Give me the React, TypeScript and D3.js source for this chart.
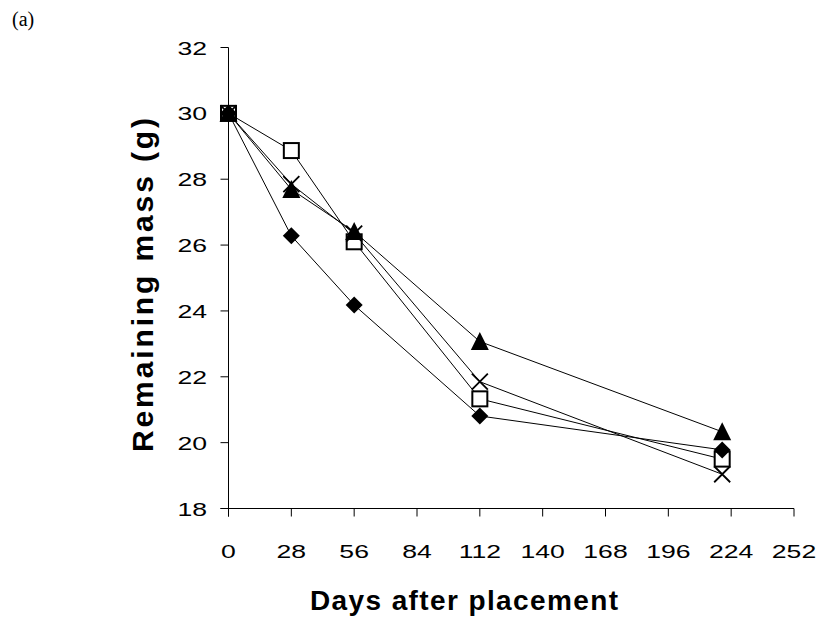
import React from "react";
import * as d3 from "d3";

const days = [0, 28, 56, 112, 220];
const diamondSeries = [30, 26.28, 24.18, 20.81, 19.78];
const squareSeries = [30, 28.87, 26.1, 21.33, 19.5];
const triangleSeries = [30, 27.69, 26.41, 23.07, 20.33];
const crossSeries = [30, 27.85, 26.35, 21.85, 19.04];
const xTicks = [0, 28, 56, 84, 112, 140, 168, 196, 224, 252];
const yTicks = [18, 20, 22, 24, 26, 28, 30, 32];

const W = 817;
const H = 625;

export default function App() {
  const x = d3.scaleLinear().domain([0, 252]).range([228.5, 794]);
  const y = d3.scaleLinear().domain([18, 32]).range([508.5, 47.5]);
  const line = d3
    .line<number>()
    .x((_, i) => x(days[i]))
    .y((v) => y(v));

  const series = [
    { key: "sq", vals: squareSeries },
    { key: "x", vals: crossSeries },
    { key: "tri", vals: triangleSeries },
    { key: "dia", vals: diamondSeries },
  ];

  const marker = (key: string, v: number, i: number) => {
    const cx = x(days[i]);
    const cy = y(v);
    if (key === "dia") {
      const r = 8.5;
      return (
        <path
          key={key + i}
          d={`M${cx},${cy - r}L${cx + r},${cy}L${cx},${cy + r}L${cx - r},${cy}Z`}
          fill="#000"
        />
      );
    }
    if (key === "sq") {
      return (
        <rect
          key={key + i}
          x={cx - 7.5}
          y={cy - 7.5}
          width={15}
          height={15}
          fill="#fff"
          stroke="#000"
          strokeWidth={2}
        />
      );
    }
    if (key === "tri") {
      return (
        <path
          key={key + i}
          d={`M${cx},${cy - 9.5}L${cx + 9},${cy + 8.5}L${cx - 9},${cy + 8.5}Z`}
          fill="#000"
        />
      );
    }
    const r = 8;
    return (
      <path
        key={key + i}
        d={`M${cx - r},${cy - r}L${cx + r},${cy + r}M${cx - r},${cy + r}L${cx + r},${cy - r}`}
        stroke="#000"
        strokeWidth={1.8}
        fill="none"
      />
    );
  };

  const tickFont = "'Liberation Sans', Arial, sans-serif";

  return (
    <svg
      width={W}
      height={H}
      style={{ position: "absolute", left: 0, top: 0, background: "#fff" }}
    >
      <rect width={W} height={H} fill="#fff" />
      <text
        x={12}
        y={26}
        fontFamily="'Liberation Serif', 'Times New Roman', serif"
        fontSize={20}
      >
        (a)
      </text>

      {/* y axis */}
      <line x1={x(0)} x2={x(0)} y1={y(32)} y2={y(18) + 8} stroke="#000" strokeWidth={1} />
      {yTicks.map((t) => (
        <g key={"yt" + t}>
          <line x1={x(0) - 8} x2={x(0)} y1={y(t)} y2={y(t)} stroke="#000" strokeWidth={1} />
          <text
            transform={`translate(207,${y(t) + 7}) scale(1.4,1)`}
            textAnchor="end"
            fontFamily={tickFont}
            fontSize={19}
            fill="#000"
          >
            {t}
          </text>
        </g>
      ))}

      {/* x axis */}
      <line x1={x(0) - 8} x2={x(252)} y1={y(18)} y2={y(18)} stroke="#000" strokeWidth={1} />
      {xTicks.map((t) => (
        <g key={"xt" + t}>
          <line x1={x(t)} x2={x(t)} y1={y(18)} y2={y(18) + 8} stroke="#000" strokeWidth={1} />
          <text
            transform={`translate(${x(t)},558) scale(1.4,1)`}
            textAnchor="middle"
            fontFamily={tickFont}
            fontSize={19}
            fill="#000"
          >
            {t}
          </text>
        </g>
      ))}

      {/* titles */}
      <text
        x={464}
        y={610}
        textAnchor="middle"
        fontFamily={tickFont}
        fontWeight="bold"
        fontSize={28}
        textLength={308}
        lengthAdjust="spacing"
      >
        Days after placement
      </text>
      <text
        transform={`translate(153,285) rotate(-90)`}
        textAnchor="middle"
        fontFamily={tickFont}
        fontWeight="bold"
        fontSize={30}
        textLength={334}
        lengthAdjust="spacing"
      >
        Remaining mass (g)
      </text>

      {/* lines */}
      {series.map((s) => (
        <path key={"l" + s.key} d={line(s.vals) || ""} fill="none" stroke="#000" strokeWidth={1} />
      ))}
      {/* markers */}
      {series.map((s) => s.vals.map((v, i) => marker(s.key, v, i)))}
    </svg>
  );
}
